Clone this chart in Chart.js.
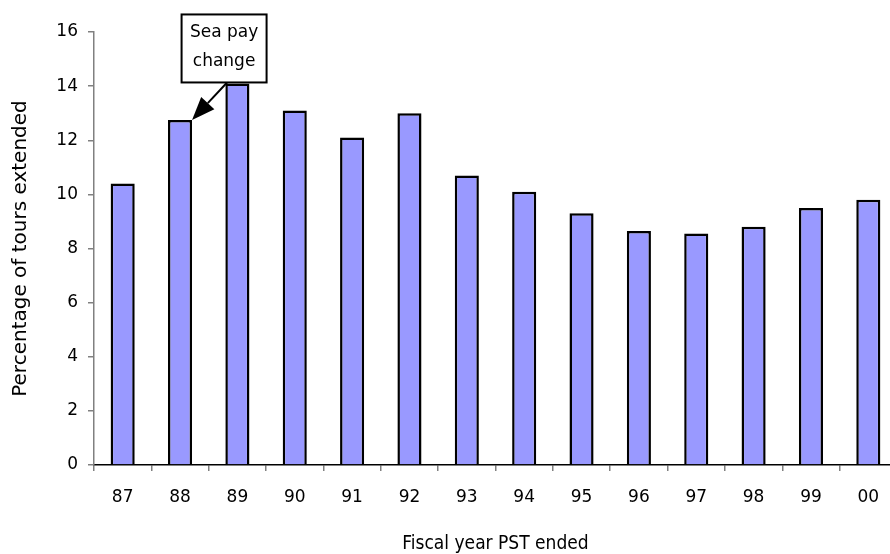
<!DOCTYPE html>
<html>
<head>
<meta charset="utf-8">
<script src="https://cdn.jsdelivr.net/npm/chart.js@4/dist/chart.umd.min.js"></script>
<style>
  html, body { margin: 0; padding: 0; background: #fff; overflow: hidden; }
  #wrap { width: 900px; height: 554px; }
</style>
</head>
<body>
<div id="wrap"><canvas id="tourChart" width="900" height="554"></canvas></div>
<script>
// fiscal years and share of tours extended (%)
const years = ['87', '88', '89', '90', '91', '92', '93', '94', '95', '96', '97', '98', '99', '00'];
const pctExtended = [10.4, 12.75, 14.1, 13.1, 12.1, 13.0, 10.7, 10.1, 9.3, 8.65, 8.55, 8.8, 9.5, 9.8];
const yTicks = [0, 2, 4, 6, 8, 10, 12, 14, 16];
const noteLines = ['Sea pay', 'change'];
const noteIndex = 1; // bar the note points at (88)

const FONT = 'DejaVu Sans';

// callout box with arrow to the 88 bar
const calloutPlugin = {
  id: 'callout',
  afterDatasetsDraw(chart) {
    const bar = chart.getDatasetMeta(0).data[noteIndex];
    if (!bar) return;
    const ctx = chart.ctx;
    const tipX = bar.x + bar.width / 2;
    const tipY = bar.y;

    const boxL = tipX - 10.5, boxT = tipY - 105.5, boxW = 85, boxH = 68;
    const startX = tipX + 35, startY = boxT + boxH;

    ctx.save();
    const ang = Math.atan2(tipY - startY, tipX - startX);
    const headLen = 23, headHalf = 9;
    const baseX = tipX - headLen * Math.cos(ang);
    const baseY = tipY - headLen * Math.sin(ang);
    ctx.strokeStyle = '#000';
    ctx.lineWidth = 2;
    ctx.beginPath();
    ctx.moveTo(startX, startY);
    ctx.lineTo(baseX, baseY);
    ctx.stroke();
    ctx.fillStyle = '#000';
    ctx.beginPath();
    ctx.moveTo(tipX, tipY);
    ctx.lineTo(baseX + headHalf * Math.sin(ang), baseY - headHalf * Math.cos(ang));
    ctx.lineTo(baseX - headHalf * Math.sin(ang), baseY + headHalf * Math.cos(ang));
    ctx.closePath();
    ctx.fill();

    // box
    ctx.fillStyle = '#fff';
    ctx.fillRect(boxL, boxT, boxW, boxH);
    ctx.lineWidth = 2;
    ctx.strokeRect(boxL, boxT, boxW, boxH);

    ctx.fillStyle = '#000';
    ctx.font = '17px "' + FONT + '"';
    ctx.textAlign = 'center';
    ctx.textBaseline = 'middle';
    ctx.fillText(noteLines[0], boxL + boxW / 2, boxT + 18);
    ctx.fillText(noteLines[1], boxL + boxW / 2, boxT + 47);
    ctx.restore();
  }
};

const ctx = document.getElementById('tourChart').getContext('2d');

new Chart(ctx, {
  type: 'bar',
  data: {
    labels: years,
    datasets: [{
      data: pctExtended,
      backgroundColor: '#9999ff',
      borderColor: '#000',
      borderWidth: 2.5,
      barPercentage: 0.42,
      categoryPercentage: 1.0
    }]
  },
  options: {
    responsive: false,
    animation: false,
    devicePixelRatio: 1,
    layout: { padding: { top: 32, left: 0, right: 3, bottom: 0 } },
    plugins: {
      legend: { display: false },
      tooltip: { enabled: false }
    },
    scales: {
      x: {
        offset: true,
        afterFit: s => { s.height = 89; },
        border: { color: '#000', width: 1.5 },
        grid: {
          offset: true,
          drawOnChartArea: false,
          drawTicks: true,
          tickLength: 6,
          color: '#808080',
          lineWidth: 1.5
        },
        ticks: {
          color: '#000',
          padding: 16,
          maxRotation: 0,
          autoSkip: false,
          font: { family: FONT, size: 17 }
        },
        title: {
          display: true,
          text: 'Fiscal year PST ended',
          color: '#000',
          padding: { top: 0, bottom: 0 },
          font: { family: 'DejaVu Sans Condensed', size: 19, lineHeight: 1 }
        }
      },
      y: {
        min: 0,
        max: 16,
        afterFit: s => { s.width = 94; },
        afterBuildTicks: s => { s.ticks = yTicks.map(v => ({ value: v })); },
        border: { color: '#808080', width: 1.5 },
        grid: {
          drawOnChartArea: false,
          drawTicks: true,
          tickLength: 6,
          color: '#808080',
          lineWidth: 1.5
        },
        ticks: {
          color: '#000',
          padding: 10,
          font: { family: FONT, size: 17 }
        },
        title: {
          display: true,
          text: 'Percentage of tours extended',
          color: '#000',
          padding: { top: 9, bottom: 0 },
          font: { family: FONT, size: 20 }
        }
      }
    }
  },
  plugins: [calloutPlugin]
});
</script>
</body>
</html>
